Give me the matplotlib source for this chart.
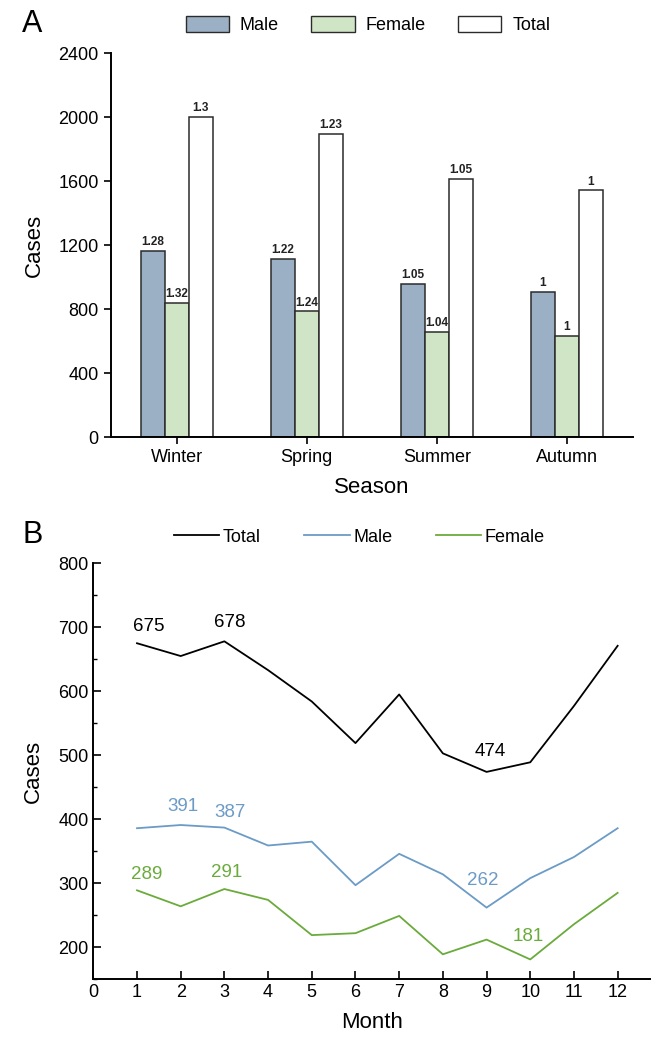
import matplotlib
matplotlib.use("Agg")
import matplotlib.pyplot as plt
from matplotlib.patches import Patch
from matplotlib.lines import Line2D
from matplotlib.ticker import MultipleLocator

plt.rcParams['font.family'] = ['Liberation Sans', 'DejaVu Sans']

# panel A data
seasons = ['Winter', 'Spring', 'Summer', 'Autumn']
male_season = [1162, 1112, 956, 908]
female_season = [839, 785, 656, 631]
total_season = [2002, 1893, 1615, 1542]
male_ratio = ['1.28', '1.22', '1.05', '1']
female_ratio = ['1.32', '1.24', '1.04', '1']
total_ratio = ['1.3', '1.23', '1.05', '1']

# panel B data
months = [1, 2, 3, 4, 5, 6, 7, 8, 9, 10, 11, 12]
total_month = [675, 655, 678, 633, 584, 519, 595, 503, 474, 489, 577, 671]
male_month = [386, 391, 387, 359, 365, 297, 346, 314, 262, 308, 341, 386]
female_month = [289, 264, 291, 274, 219, 222, 249, 189, 212, 181, 236, 285]

c_male = '#9cb0c5'
c_female = '#d0e4c6'
c_edge = '#2b2b2b'
l_male = '#6b9bc6'
l_female = '#6aab3c'

fig = plt.figure(figsize=(6.57, 10.44), dpi=100)

# ---------- A ----------
axA = fig.add_axes([0.1682, 0.5814, 0.7953, 0.3678])
x = list(range(1, len(seasons) + 1))
w = 0.185
bm = axA.bar([i - w for i in x], male_season, w, color=c_male, edgecolor=c_edge, linewidth=1.1)
bf = axA.bar(x, female_season, w, color=c_female, edgecolor=c_edge, linewidth=1.1)
bt = axA.bar([i + w for i in x], total_season, w, color='white', edgecolor=c_edge, linewidth=1.1)
for bars, labs in [(bm, male_ratio), (bf, female_ratio), (bt, total_ratio)]:
    for b, lab in zip(bars, labs):
        axA.annotate(lab, (b.get_x() + b.get_width() / 2, b.get_height()),
                     xytext=(0, 2), textcoords='offset points', ha='center', va='bottom',
                     fontsize=8.5, fontweight='bold', color='#222222')
axA.set_xlim(0.49, 4.51)
axA.set_ylim(0, 2400)
axA.set_yticks(range(0, 2401, 400))
axA.set_xticks(x)
axA.set_xticklabels(seasons)
for s in ['top', 'right']:
    axA.spines[s].set_visible(False)
for s in ['left', 'bottom']:
    axA.spines[s].set_linewidth(1.4)
axA.tick_params(direction='out', length=5, width=1.2, labelsize=13)
axA.set_ylabel('Cases', fontsize=16, labelpad=10)
axA.set_xlabel('Season', fontsize=16, labelpad=8)

fig.legend(handles=[Patch(facecolor=c_male, edgecolor=c_edge, label='Male'),
                    Patch(facecolor=c_female, edgecolor=c_edge, label='Female'),
                    Patch(facecolor='white', edgecolor=c_edge, label='Total')],
           loc='center', bbox_to_anchor=(0.56, 0.976), ncol=3, frameon=False,
           fontsize=13, handlelength=2.4, handleheight=0.95, handletextpad=0.6,
           columnspacing=1.8)

fig.text(0.049, 0.977, 'A', fontsize=22, ha='center', va='center')

# ---------- B ----------
axB = fig.add_axes([0.142, 0.062, 0.8473, 0.3985])
axB.plot(months, total_month, color='black', linewidth=1.3)
axB.plot(months, male_month, color=l_male, linewidth=1.3)
axB.plot(months, female_month, color=l_female, linewidth=1.3)

labels_B = [
    (1, total_month, 'black', (12, 17)),
    (3, total_month, 'black', (5, 19)),
    (9, total_month, 'black', (4, 20)),
    (2, male_month, l_male, (2, 19)),
    (3, male_month, l_male, (6, 15)),
    (9, male_month, l_male, (-4, 27)),
    (1, female_month, l_female, (10, 16)),
    (3, female_month, l_female, (2, 17)),
    (10, female_month, l_female, (-2, 23)),
]
for m, series, col, off in labels_B:
    v = series[m - 1]
    axB.annotate(str(v), (m, v), xytext=off, textcoords='offset pixels',
                 ha='center', va='center', fontsize=13.5, color=col)

axB.set_xlim(0, 12.74)
axB.set_ylim(150, 800)
axB.set_xticks(range(0, 13))
axB.set_yticks(range(200, 801, 100))
axB.yaxis.set_minor_locator(MultipleLocator(50))
for s in ['top', 'right']:
    axB.spines[s].set_visible(False)
for s in ['left', 'bottom']:
    axB.spines[s].set_linewidth(1.4)
axB.tick_params(which='major', direction='in', length=6, width=1.2, labelsize=13)
axB.tick_params(which='minor', direction='in', length=3, width=1.0)
axB.set_ylabel('Cases', fontsize=16, labelpad=10)
axB.set_xlabel('Month', fontsize=16, labelpad=8)

fig.legend(handles=[Line2D([], [], color='black', linewidth=1.3, label='Total'),
                    Line2D([], [], color=l_male, linewidth=1.3, label='Male'),
                    Line2D([], [], color=l_female, linewidth=1.3, label='Female')],
           loc='center', bbox_to_anchor=(0.547, 0.4856), ncol=3, frameon=False,
           fontsize=13, handlelength=2.5, handletextpad=0.2, columnspacing=2.4)

fig.text(0.049, 0.4876, 'B', fontsize=22, ha='center', va='center')

fig.savefig('out.png', dpi=100)
